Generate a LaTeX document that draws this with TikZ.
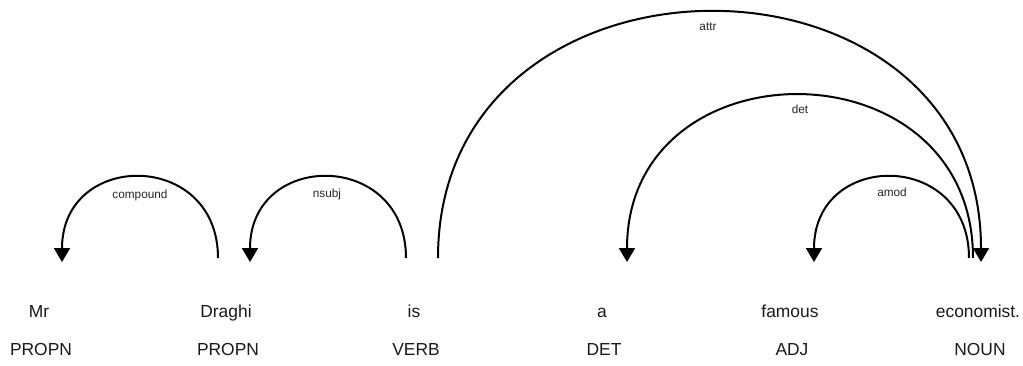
\documentclass[tikz,border=0pt]{standalone}
\usepackage{fontspec}
\setmainfont{Liberation Sans}
\usetikzlibrary{arrows.meta}
\begin{document}
\begin{tikzpicture}[x=1pt,y=-1pt,
  word/.style={font=\fontsize{17.4}{20}\selectfont, anchor=base, inner sep=0pt, text=black!90},
  tag/.style={font=\fontsize{17.4}{20}\selectfont, anchor=base, inner sep=0pt, text=black!90},
  dep/.style={line width=2pt, -{Triangle[width=16pt,length=14pt]}},
  lab/.style={font=\fontsize{11.8}{13}\selectfont, inner sep=0pt, text=black!85},
]
\useasboundingbox (0,0) rectangle (1023,365);
% words
\node[word] (w0) at (39,317) {Mr};
\node[word] (w1) at (226,317) {Draghi};
\node[word] (w2) at (414,317) {is};
\node[word] (w3) at (602,317) {a};
\node[word] (w4) at (790,317) {famous};
\node[word] (w5) at (978,317) {economist.};
% tags
\node[tag] (p0) at (41,355) {PROPN};
\node[tag] (p1) at (228,355) {PROPN};
\node[tag] (p2) at (416,355) {VERB};
\node[tag] (p3) at (604,355) {DET};
\node[tag] (p4) at (792,355) {ADJ};
\node[tag] (p5) at (980,355) {NOUN};
% arc end points
\coordinate (c1s) at (218,258); \coordinate (c1e) at (62,262);
\coordinate (n1s) at (406,258); \coordinate (n1e) at (250,262);
\coordinate (a1s) at (438,258); \coordinate (a1e) at (981,262);
\coordinate (d1s) at (973,258); \coordinate (d1e) at (627,262);
\coordinate (m1s) at (969,258); \coordinate (m1e) at (814,262);
% arcs
\draw[dep] (c1s) .. controls (218,150) and (62,150) .. (c1e);
\draw[dep] (n1s) .. controls (406,150) and (250,150) .. (n1e);
\draw[dep] (a1s) .. controls (438,-70) and (981,-70) .. (a1e);
\draw[dep] (d1s) .. controls (973,41) and (627,41) .. (d1e);
\draw[dep] (m1s) .. controls (969,150) and (814,150) .. (m1e);
% labels
\node[lab] (l1) at (140,195) {compound};
\node[lab] (l2) at (327,194) {nsubj};
\node[lab] (l3) at (708,27) {attr};
\node[lab] (l4) at (800,109) {det};
\node[lab] (l5) at (892,192) {amod};
\end{tikzpicture}
\end{document}
